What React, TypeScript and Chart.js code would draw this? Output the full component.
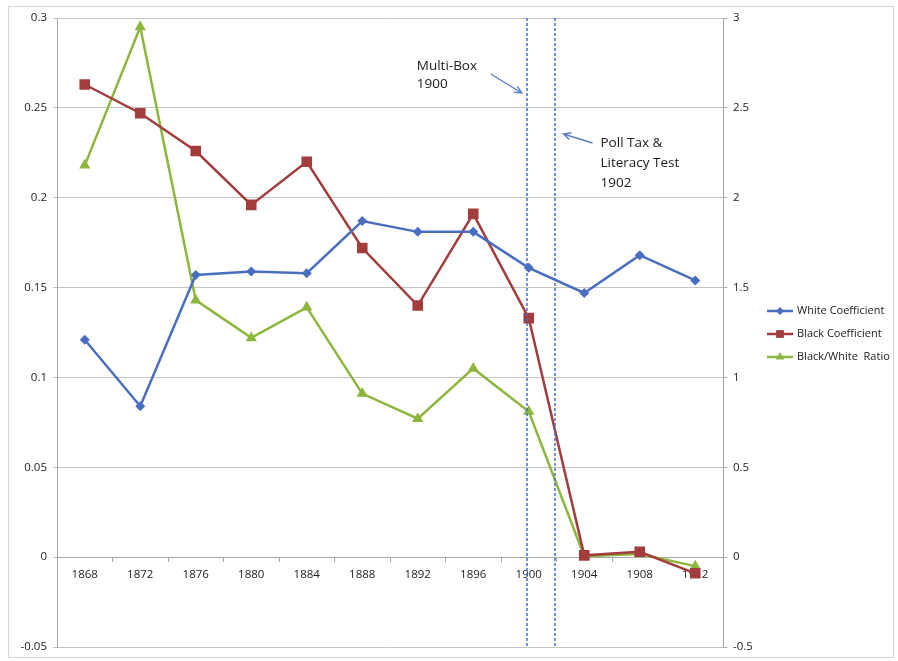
import React, { useEffect, useRef } from "react";
import { Chart, registerables } from "chart.js";

Chart.register(...registerables);

const years = ["1868", "1872", "1876", "1880", "1884", "1888", "1892", "1896", "1900", "1904", "1908", "1912"];
const whiteCoefficient = [0.121, 0.084, 0.157, 0.159, 0.158, 0.187, 0.181, 0.181, 0.161, 0.147, 0.168, 0.154];
const blackCoefficient = [0.263, 0.247, 0.226, 0.196, 0.22, 0.172, 0.14, 0.191, 0.133, 0.001, 0.003, -0.009];
const blackWhiteRatio = [2.18, 2.95, 1.43, 1.22, 1.39, 0.91, 0.77, 1.05, 0.81, 0.005, 0.017, -0.05];
const seriesNames = ["White Coefficient", "Black Coefficient", "Black/White  Ratio"];
const eventYears = [1900, 1902];
const eventLabels = [["Multi-Box", "1900"], ["Poll Tax &", "Literacy Test", "1902"]];

const BLUE = "#4a6ebf";
const RED = "#a33c3c";
const GREEN = "#8db63c";
const GRID = "#c4c4c4";
const FONT = '"Open Sans", "Noto Sans", sans-serif';

function yearToIndex(y: number) {
  return (y - Number(years[0])) / (Number(years[1]) - Number(years[0]));
}

function arrow(ctx: CanvasRenderingContext2D, x0: number, y0: number, x1: number, y1: number) {
  ctx.beginPath();
  ctx.moveTo(x0, y0);
  ctx.lineTo(x1, y1);
  const a = Math.atan2(y1 - y0, x1 - x0);
  const L = 8;
  ctx.moveTo(x1 - L * Math.cos(a - 0.45), y1 - L * Math.sin(a - 0.45));
  ctx.lineTo(x1, y1);
  ctx.lineTo(x1 - L * Math.cos(a + 0.45), y1 - L * Math.sin(a + 0.45));
  ctx.stroke();
}

function drawMarker(ctx: CanvasRenderingContext2D, style: string, r: number, x: number, y: number, color: string) {
  ctx.save();
  ctx.fillStyle = color;
  ctx.beginPath();
  if (style === "rectRot") {
    ctx.moveTo(x - r, y);
    ctx.lineTo(x, y - r);
    ctx.lineTo(x + r, y);
    ctx.lineTo(x, y + r);
  } else if (style === "rect") {
    const s = r * Math.SQRT1_2;
    ctx.rect(x - s, y - s, 2 * s, 2 * s);
  } else {
    ctx.moveTo(x, y - r);
    ctx.lineTo(x + r * 0.866, y + r * 0.5);
    ctx.lineTo(x - r * 0.866, y + r * 0.5);
  }
  ctx.closePath();
  ctx.fill();
  ctx.restore();
}

const overlayPlugin = {
  id: "overlay",
  beforeDraw(chart: any) {
    const ctx = chart.ctx as CanvasRenderingContext2D;
    ctx.save();
    ctx.fillStyle = "#ffffff";
    ctx.fillRect(0, 0, chart.width, chart.height);
    ctx.strokeStyle = "#d4d4d4";
    ctx.lineWidth = 1;
    ctx.strokeRect(8.5, 6.5, 885, 651);
    ctx.restore();
  },
  afterDatasetsDraw(chart: any) {
    const ctx = chart.ctx as CanvasRenderingContext2D;
    const { top, bottom } = chart.chartArea;
    const xs = chart.scales.x;
    const lx = eventYears.map((y) => xs.getPixelForValue(yearToIndex(y)) - 2);
    ctx.save();
    ctx.strokeStyle = "#3f6fd4";
    ctx.lineWidth = 1.5;
    ctx.setLineDash([3, 2]);
    lx.forEach((x) => {
      ctx.beginPath();
      ctx.moveTo(Math.round(x), top);
      ctx.lineTo(Math.round(x), bottom);
      ctx.stroke();
    });
    ctx.setLineDash([]);
    ctx.strokeStyle = "#5a7cc8";
    ctx.lineWidth = 1.4;
    arrow(ctx, lx[0] - 36, top + 56, lx[0] - 5, top + 75);
    arrow(ctx, lx[1] + 38, top + 125, lx[1] + 9, top + 116);
    ctx.fillStyle = "#1a1a1a";
    ctx.font = `13.5px ${FONT}`;
    ctx.textBaseline = "middle";
    ctx.textAlign = "left";
    eventLabels[0].forEach((t, i) => ctx.fillText(t, lx[0] - 110, top + 48 + i * 18));
    eventLabels[1].forEach((t, i) => ctx.fillText(t, lx[1] + 46, top + 125 + i * 20));

    const colors = [BLUE, RED, GREEN];
    const styles = ["rectRot", "rect", "triangle"];
    const radii = [4, 5.5, 5];
    const lgX = 767;
    const lgY = [311, 334, 357];
    ctx.font = `11px ${FONT}`;
    seriesNames.forEach((name, i) => {
      ctx.strokeStyle = colors[i];
      ctx.lineWidth = 2.5;
      ctx.beginPath();
      ctx.moveTo(lgX, lgY[i]);
      ctx.lineTo(lgX + 26, lgY[i]);
      ctx.stroke();
      drawMarker(ctx, styles[i], radii[i], lgX + 13, lgY[i], colors[i]);
      ctx.fillStyle = "#1a1a1a";
      ctx.fillText(name, lgX + 30, lgY[i]);
    });
    ctx.restore();
  },
};

const fmt = (v: any) => String(Math.round(Number(v) * 100) / 100);

export default function App() {
  const ref = useRef<HTMLCanvasElement | null>(null);
  useEffect(() => {
    document.body.style.margin = "0";
    const canvas = ref.current;
    if (!canvas) return;
    const tickFont = { family: FONT, size: 11.5 };
    const chart = new Chart(canvas, {
      type: "line",
      data: {
        labels: years,
        datasets: [
          {
            label: seriesNames[0],
            data: whiteCoefficient,
            yAxisID: "y",
            borderColor: BLUE,
            backgroundColor: BLUE,
            borderWidth: 2.5,
            pointStyle: "rectRot",
            pointRadius: 5,
            pointBorderWidth: 0,
            tension: 0,
          },
          {
            label: seriesNames[1],
            data: blackCoefficient,
            yAxisID: "y",
            borderColor: RED,
            backgroundColor: RED,
            borderWidth: 2.5,
            pointStyle: "rect",
            pointRadius: 7.5,
            pointBorderWidth: 0,
            tension: 0,
          },
          {
            label: seriesNames[2],
            data: blackWhiteRatio,
            yAxisID: "y2",
            borderColor: GREEN,
            backgroundColor: GREEN,
            borderWidth: 2.5,
            pointStyle: "triangle",
            pointRadius: 6.5,
            pointBorderWidth: 0,
            tension: 0,
          },
        ],
      },
      options: {
        responsive: false,
        animation: false,
        layout: { padding: { left: 0, right: 0, top: 18, bottom: 14 } },
        plugins: { legend: { display: false }, tooltip: { enabled: false } },
        scales: {
          x: {
            type: "category",
            position: { y: 0 } as any,
            offset: true,
            grid: {
              display: true,
              offset: true,
              drawOnChartArea: false,
              drawTicks: true,
              tickLength: 4,
              color: "#a6a6a6",
            },
            border: { display: true, color: "#a6a6a6" },
            ticks: { font: tickFont, color: "#222", padding: 7, maxRotation: 0, autoSkip: false },
          },
          y: {
            type: "linear",
            position: "left",
            min: -0.05,
            max: 0.3,
            afterFit: (s: any) => {
              s.width = 57;
            },
            ticks: { stepSize: 0.05, font: tickFont, color: "#222", padding: 6, callback: fmt },
            grid: { color: GRID, tickLength: 4, drawTicks: true },
            border: { display: true, color: "#a6a6a6" },
          },
          y2: {
            type: "linear",
            position: "right",
            min: -0.5,
            max: 3,
            afterFit: (s: any) => {
              s.width = 175;
            },
            ticks: { stepSize: 0.5, font: tickFont, color: "#222", padding: 6, callback: fmt },
            grid: { drawOnChartArea: false, drawTicks: true, tickLength: 4, color: "#a6a6a6" },
            border: { display: true, color: "#a6a6a6" },
          },
        },
      } as any,
      plugins: [overlayPlugin],
    });
    return () => chart.destroy();
  }, []);
  return (
    <div style={{ width: 898, height: 661 }}>
      <canvas ref={ref} width={898} height={661} style={{ display: "block", width: 898, height: 661 }} />
    </div>
  );
}
